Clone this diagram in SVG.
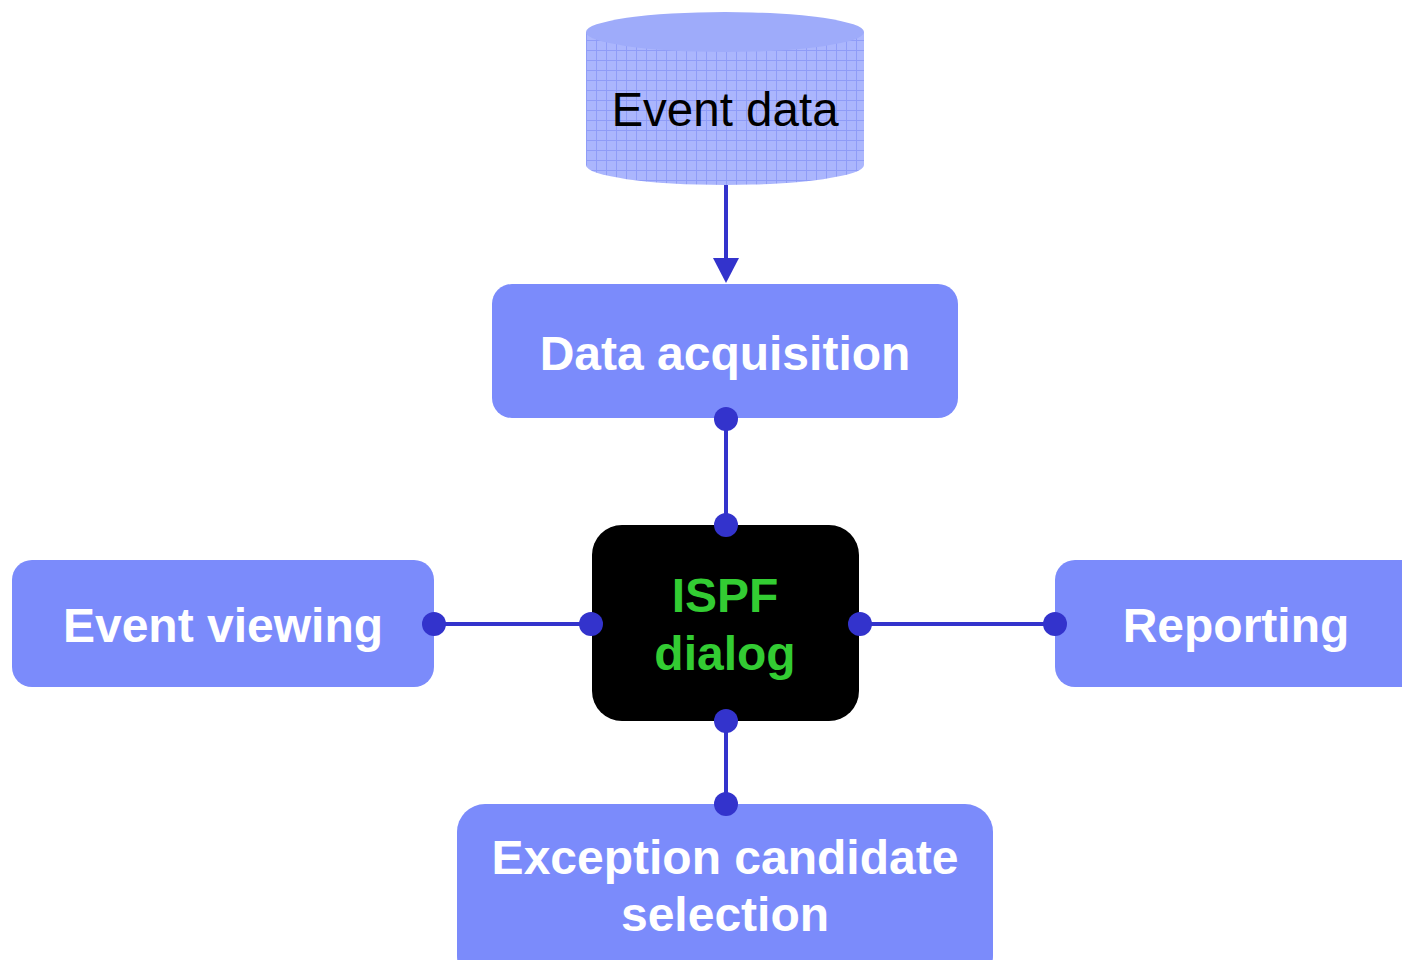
<svg xmlns="http://www.w3.org/2000/svg" width="1402" height="960" viewBox="0 0 1402 960">
<style>
.box{fill:#7b8bfb}
.lbl{font-family:"Liberation Sans",Arial,sans-serif;font-weight:bold;font-size:48px;fill:#ffffff;text-anchor:middle}
.isp{font-family:"Liberation Sans",Arial,sans-serif;font-weight:bold;font-size:48px;fill:#33cc33;text-anchor:middle}
.con{stroke:#3333cc;stroke-width:4;fill:none}
.dot{fill:#3333cc}
</style>
<defs>
<pattern id="grid" width="10" height="10" patternUnits="userSpaceOnUse" x="586" y="0">
<rect width="10" height="10" fill="#abb6fd"/>
<path d="M0 0.5H10M0.5 0V10" stroke="#8f9cf7" stroke-width="1"/>
</pattern>
</defs>
<g id="event-data">
<path d="M586 32 V165 A139 20 0 0 0 864 165 V32 Z" fill="url(#grid)"/>
<ellipse cx="725" cy="32" rx="139" ry="20" fill="#9eabfa"/>
<text x="725" y="126" font-family="'Liberation Sans',Arial,sans-serif" font-size="47.5" fill="#000" text-anchor="middle">Event data</text>
</g>
<g id="connectors">
<line class="con" x1="726" y1="185" x2="726" y2="262"/>
<polygon class="dot" points="713,258 739,258 726,283"/>
<line class="con" x1="726" y1="419" x2="726" y2="525"/>
<line class="con" x1="434" y1="624" x2="591" y2="624"/>
<line class="con" x1="860" y1="624" x2="1055" y2="624"/>
<line class="con" x1="726" y1="721" x2="726" y2="804"/>
</g>
<g id="data-acquisition">
<rect class="box" x="492" y="284" width="466" height="134" rx="20"/>
<text class="lbl" x="725" y="370">Data acquisition</text>
</g>
<g id="ispf-dialog">
<rect x="592" y="525" width="267" height="196" rx="30" fill="#000"/>
<text class="isp" x="725" y="612">ISPF</text>
<text class="isp" x="725" y="670">dialog</text>
</g>
<g id="event-viewing">
<rect class="box" x="12" y="560" width="422" height="127" rx="20"/>
<text class="lbl" x="223" y="642">Event viewing</text>
</g>
<g id="reporting">
<rect class="box" x="1055" y="560" width="370" height="127" rx="20"/>
<text class="lbl" x="1236" y="642">Reporting</text>
</g>
<g id="exception-candidate-selection">
<rect class="box" x="457" y="804" width="536" height="180" rx="28"/>
<text class="lbl" x="725" y="874">Exception candidate</text>
<text class="lbl" x="725" y="931">selection</text>
</g>
<g id="dots">
<circle class="dot" cx="726" cy="419" r="12"/>
<circle class="dot" cx="726" cy="525" r="12"/>
<circle class="dot" cx="434" cy="624" r="12"/>
<circle class="dot" cx="591" cy="624" r="12"/>
<circle class="dot" cx="860" cy="624" r="12"/>
<circle class="dot" cx="1055" cy="624" r="12"/>
<circle class="dot" cx="726" cy="721" r="12"/>
<circle class="dot" cx="726" cy="804" r="12"/>
</g>
</svg>
